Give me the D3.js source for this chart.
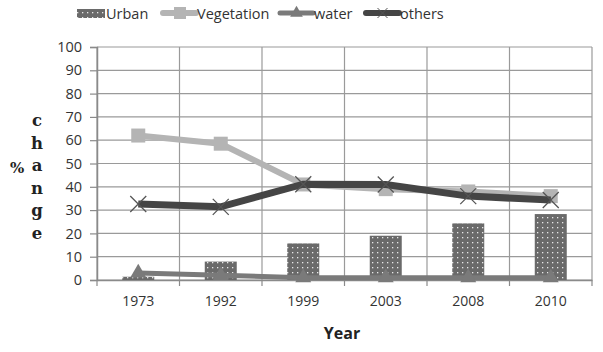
<!DOCTYPE html>
<html><head><meta charset="utf-8">
<script src="https://cdn.jsdelivr.net/npm/d3@7"></script>
<style>body{margin:0;background:#fff}svg{display:block}</style>
</head><body>
<script>
const years = ["1973","1992","1999","2003","2008","2010"];
const urban = [1.4, 7.9, 15.7, 19, 24.3, 28.3];
const vegetation = [62, 58.5, 41, 39, 38, 36];
const water = [3, 2, 1, 1, 1, 1];
const others = [32.6, 31.4, 41.1, 41, 36, 34.3];
const yTicks = [0,10,20,30,40,50,60,70,80,90,100];

const W = 603, H = 352;
const svg = d3.select("body").append("svg").attr("width", W).attr("height", H);
const m = {left: 97, right: 592, top: 47, bottom: 280};
const x = d3.scaleBand().domain(years).range([m.left, m.right]);
const y = d3.scaleLinear().domain([0,100]).range([m.bottom, m.top]);

const defs = svg.append("defs");
const pat = defs.append("pattern").attr("id","dots").attr("patternUnits","userSpaceOnUse")
  .attr("width",5).attr("height",5);
pat.append("rect").attr("width",5).attr("height",5).attr("fill","#6a6a6a");
pat.append("rect").attr("x",2).attr("y",2).attr("width",1.3).attr("height",1.3).attr("fill","#e8e8e8");

// gridlines
svg.append("g").selectAll("line").data(yTicks).join("line")
  .attr("x1", m.left).attr("x2", m.right).attr("y1", d=>y(d)).attr("y2", d=>y(d))
  .attr("stroke","#9a9a9a").attr("stroke-width",1.2);
const vx = years.map(d=>x(d)).concat([m.right]);
svg.append("g").selectAll("line").data(vx).join("line")
  .attr("x1", d=>d).attr("x2", d=>d).attr("y1", m.top).attr("y2", m.bottom)
  .attr("stroke","#9a9a9a").attr("stroke-width",1.2);

// axes
const yAxis = d3.axisLeft(y).tickValues(yTicks).tickSize(7).tickPadding(8);
const gy = svg.append("g").attr("transform",`translate(${m.left},0)`).call(yAxis);
gy.select(".domain").attr("stroke","#8a8a8a").attr("stroke-width",1.5);
gy.selectAll(".tick line").attr("stroke","#8a8a8a").attr("stroke-width",1.2);
gy.selectAll("text").attr("font-family","'Open Sans', sans-serif").attr("font-size",14.5).attr("fill","#333");

const xAxis = d3.axisBottom(x).tickSize(0).tickPadding(16);
const gx = svg.append("g").attr("transform",`translate(0,${m.bottom})`).call(xAxis);
gx.select(".domain").attr("stroke","#8a8a8a").attr("stroke-width",1.5);
gx.selectAll("text").attr("font-family","'Open Sans', sans-serif").attr("font-size",14).attr("fill","#333");
svg.append("g").selectAll("line").data(vx).join("line")
  .attr("x1", d=>d).attr("x2", d=>d).attr("y1", m.bottom).attr("y2", m.bottom+6)
  .attr("stroke","#8a8a8a").attr("stroke-width",1.2);

// bars
const bw = 32;
svg.append("g").selectAll("rect").data(years).join("rect")
  .attr("x", d=>x(d)+x.bandwidth()/2-bw/2).attr("width", bw)
  .attr("y", (d,i)=>y(urban[i])).attr("height", (d,i)=>y(0)-y(urban[i]))
  .attr("fill","url(#dots)");

const cx = d=>x(d)+x.bandwidth()/2;
const line = vals => d3.line().x((d,i)=>cx(years[i])).y((d,i)=>y(vals[i]))(vals);

// water
svg.append("path").attr("d", line(water)).attr("fill","none").attr("stroke","#7a7a7a").attr("stroke-width",5);
const tri = d3.symbol().type(d3.symbolTriangle).size(110);
svg.append("g").selectAll("path").data(years).join("path")
  .attr("transform",(d,i)=>`translate(${cx(d)},${y(water[i])})`).attr("d", tri()).attr("fill","#7a7a7a");

// vegetation
svg.append("path").attr("d", line(vegetation)).attr("fill","none").attr("stroke","#b4b4b4").attr("stroke-width",6);
svg.append("g").selectAll("rect").data(years).join("rect")
  .attr("x", d=>cx(d)-7).attr("y",(d,i)=>y(vegetation[i])-7).attr("width",14).attr("height",14)
  .attr("fill","#b4b4b4");

// others
svg.append("path").attr("d", line(others)).attr("fill","none").attr("stroke","#454545").attr("stroke-width",7);
svg.append("g").selectAll("path").data(years).join("path")
  .attr("transform",(d,i)=>`translate(${cx(d)},${y(others[i])})`)
  .attr("d","M-8,-8L8,8M-8,8L8,-8").attr("stroke","#555").attr("stroke-width",1.3);

// y label
const serif = "'DejaVu Serif', serif";
svg.append("text").attr("x",10).attr("y",173).text("%").attr("font-family",serif).attr("font-weight","bold").attr("font-size",15).attr("fill","#222");
"change".split("").forEach((c,i)=>{
  svg.append("text").attr("x",37).attr("y",126+i*22.6).attr("text-anchor","middle").text(c)
    .attr("font-family",serif).attr("font-weight","bold").attr("font-size",16.5).attr("fill","#222");
});
svg.append("text").attr("x",342).attr("y",339).attr("text-anchor","middle").text("Year")
  .attr("font-family","'Open Sans', sans-serif").attr("font-weight","bold").attr("font-size",16).attr("fill","#222");

// legend
const lg = svg.append("g").attr("font-family","'Open Sans', sans-serif").attr("font-size",14.5).attr("fill","#333");
lg.append("rect").attr("x",77).attr("y",9).attr("width",28).attr("height",9).attr("fill","url(#dots)");
lg.append("text").attr("x",106).attr("y",19).text("Urban");
function legLine(x0, color, w, label, mark){
  lg.append("line").attr("x1",x0).attr("x2",x0+33).attr("y1",13).attr("y2",13).attr("stroke",color).attr("stroke-width",w).attr("stroke-linecap","round");
  if(mark==="sq") lg.append("rect").attr("x",x0+11).attr("y",7).attr("width",12).attr("height",12).attr("fill",color);
  if(mark==="tri") lg.append("path").attr("transform",`translate(${x0+16.5},13)`).attr("d",d3.symbol().type(d3.symbolTriangle).size(70)()).attr("fill",color);
  if(mark==="x") lg.append("path").attr("transform",`translate(${x0+16.5},13)`).attr("d","M-5,-5L5,5M-5,5L5,-5").attr("stroke","#555").attr("stroke-width",1);
  lg.append("text").attr("x",x0+34).attr("y",19).text(label);
}
legLine(163,"#b4b4b4",6,"Vegetation","sq");
legLine(280,"#7a7a7a",5,"water","tri");
legLine(366,"#454545",6,"others","x");
</script>
</body></html>
